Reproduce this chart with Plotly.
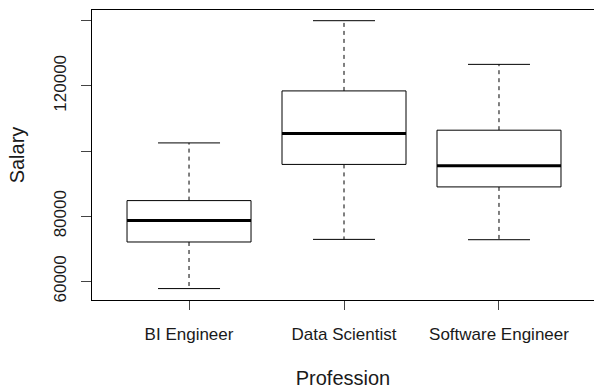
import plotly.graph_objects as go

professions = ["BI Engineer", "Data Scientist", "Software Engineer"]
lower_whisker = [57800, 72900, 72800]
q1 = [72100, 95900, 89000]
median = [78700, 105400, 95500]
q3 = [84800, 118450, 106400]
upper_whisker = [102500, 140000, 126600]

y_tickvals = [60000, 80000, 100000, 120000, 140000]
y_ticktext = ["60000", "80000", "", "120000", ""]

FONT = "Liberation Sans, Arial, sans-serif"
BOX_HALF = 0.4
CAP_HALF = 0.2

fig = go.Figure()
for i, name in enumerate(professions):
    x = i + 1
    # whiskers (dashed)
    fig.add_trace(go.Scatter(x=[x, x], y=[q3[i], upper_whisker[i]], mode="lines",
                             line=dict(color="black", width=1, dash="4px,4px"),
                             hoverinfo="skip", showlegend=False))
    fig.add_trace(go.Scatter(x=[x, x], y=[q1[i], lower_whisker[i]], mode="lines",
                             line=dict(color="black", width=1, dash="4px,4px"),
                             hoverinfo="skip", showlegend=False))
    # caps
    for v in (upper_whisker[i], lower_whisker[i]):
        fig.add_trace(go.Scatter(x=[x - CAP_HALF, x + CAP_HALF], y=[v, v], mode="lines",
                                 line=dict(color="black", width=1),
                                 hoverinfo="skip", showlegend=False))
    # box
    fig.add_trace(go.Scatter(
        x=[x - BOX_HALF, x + BOX_HALF, x + BOX_HALF, x - BOX_HALF, x - BOX_HALF],
        y=[q1[i], q1[i], q3[i], q3[i], q1[i]],
        mode="lines", line=dict(color="black", width=1),
        fill="toself", fillcolor="white", name=name, showlegend=False))
    # median
    fig.add_trace(go.Scatter(x=[x - BOX_HALF, x + BOX_HALF], y=[median[i], median[i]],
                             mode="lines", line=dict(color="black", width=3),
                             hoverinfo="skip", showlegend=False))

fig.update_layout(
    width=594, height=390,
    margin=dict(l=92, r=0, t=10, b=90, autoexpand=False),
    paper_bgcolor="white", plot_bgcolor="white",
    font=dict(family=FONT, size=17, color="#1a1a1a"),
    xaxis=dict(range=[0.374, 3.613], tickvals=[1, 2, 3], ticktext=professions,
               automargin=False,
               showgrid=False, zeroline=False, showline=True, mirror=True,
               linecolor="black", linewidth=1, ticks="outside", ticklen=9,
               tickcolor="#444444", tickwidth=1, ticklabelstandoff=10,
               title=dict(text="Profession", standoff=27)),
    yaxis=dict(range=[54300, 143280], tickvals=y_tickvals, ticktext=y_ticktext,
               automargin=False,
               tickangle=-90, showgrid=False, zeroline=False, showline=True,
               linecolor="black", linewidth=1, ticks="outside", ticklen=10,
               tickcolor="#444444", tickwidth=1, ticklabelstandoff=8,
               title=dict(text="Salary", standoff=21)),
)

fig.write_html("out.html", config={"displayModeBar": False},
               post_script="document.body.style.margin='0';")
